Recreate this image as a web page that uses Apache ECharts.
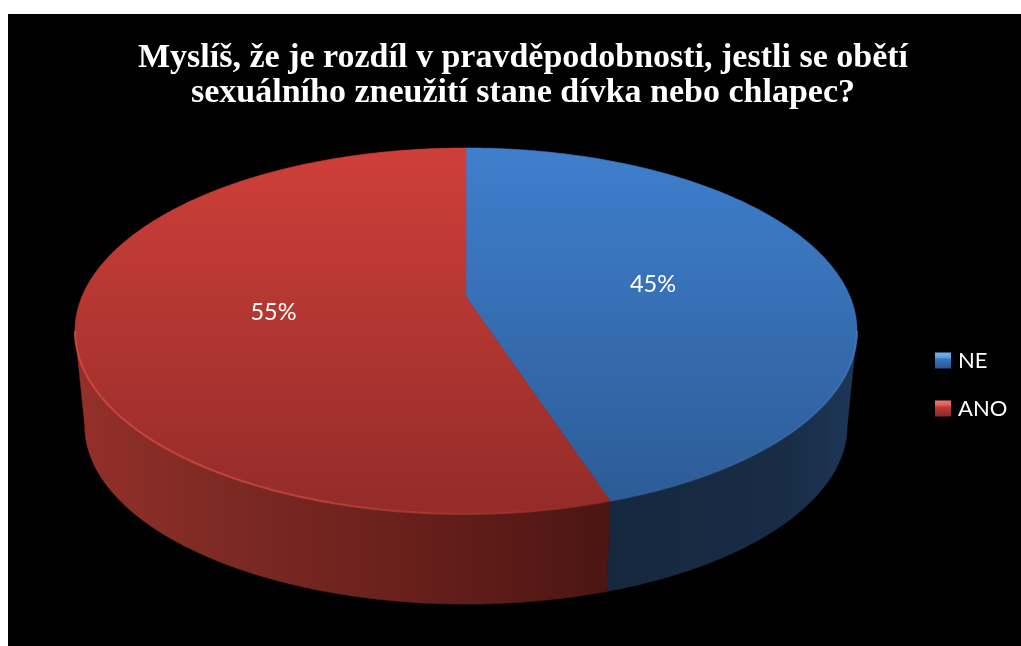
<!DOCTYPE html>
<html><head><meta charset="utf-8">
<style>html,body{margin:0;padding:0;background:#fff}#c{width:1021px;height:646px}</style>
<script src="https://cdn.jsdelivr.net/npm/echarts@6/dist/echarts.min.js"></script>
</head><body><div id="c"></div>
<script>
const categories = ['NE', 'ANO'];
const values = [45, 55];
const titleLines = ['Myslíš, že je rozdíl v pravděpodobnosti, jestli se obětí', 'sexuálního zneužití stane dívka nebo chlapec?'];

const total = values.reduce((a, b) => a + b, 0);
const starts = values.map((_, i) => values.slice(0, i).reduce((a, b) => a + b, 0));
const G = echarts.graphic.LinearGradient;
const grad = (x0, y0, x1, y1, stops) => new G(x0, y0, x1, y1, stops.map(c => ({offset: c[0], color: c[1]})), true);

// perspective projection of the pie disc
const cx = 466, cy = 297, k = 0.1858, A = 176.7, B = 384.2, depth = 95.5, shrink = 0.975;
function topPt(theta, r) {
  const u = r * Math.sin(theta), v = -r * Math.cos(theta), w = 1 - k * v;
  return [cx + B * u / w, cy + A * v / w];
}
function botPt(theta) {
  const p = topPt(theta, 1);
  return [cx + (p[0] - cx) * shrink, cy + depth + (p[1] - cy) * shrink];
}
const D = Math.PI / 180;
const sideAngle = Math.acos(-k) / D; // where the rim turns from back to front
function arc(a0, a1, f) {
  const pts = [], n = Math.max(2, Math.ceil((a1 - a0) / 0.5));
  for (let i = 0; i <= n; i++) pts.push(f((a0 + (a1 - a0) * i / n) * D));
  return pts;
}
const looks = [
  {
    face: grad(0, 148, 0, 505, [[0, '#3f7fcd'], [1, '#2c5b96']]),
    wall: grad(610, 0, 860, 0, [[0, '#16283f'], [0.7, '#182c46'], [1, '#1e3757']]),
    rim: grad(857, 330, 610, 500, [[0, 'rgba(80,140,215,0.45)'], [0.5, 'rgba(70,125,195,0.3)'], [1, 'rgba(60,115,185,0.1)']])
  },
  {
    face: grad(0, 148, 0, 505, [[0, '#cf3f39'], [1, '#952c29']]),
    wall: grad(75, 0, 615, 0, [[0, '#943029'], [0.25, '#7f2a24'], [0.6, '#6a201c'], [1, '#4a1512']]),
    rim: grad(75, 330, 612, 500, [[0, 'rgba(235,90,80,0.55)'], [0.5, 'rgba(220,80,70,0.6)'], [0.85, 'rgba(185,60,55,0.35)'], [1, 'rgba(150,45,42,0.1)']])
  }
];

function renderSlice(params, api) {
  const i = params.seriesIndex, val = api.value(0), look = looks[i];
  const a0 = starts[i] / total * 360, a1 = (starts[i] + val) / total * 360;
  const w0 = Math.max(a0, sideAngle), w1 = Math.min(a1, 360 - sideAngle);
  const topArc = arc(w0, w1, t => topPt(t, 1));
  const botArc = arc(w0, w1, botPt).reverse();
  const mid = (a0 + a1) / 2 * D, lp = topPt(mid, 0.5);
  return {type: 'group', children: [
    {type: 'polygon', z2: 1, shape: {points: topArc.concat(botArc)}, style: {fill: look.wall, stroke: look.wall, lineWidth: 0.5}},
    {type: 'polygon', z2: 5, shape: {points: [[cx, cy]].concat(arc(a0, a1, t => topPt(t, 1)))}, style: {fill: look.face, stroke: look.face, lineWidth: 0.6}},
    {type: 'polyline', z2: 6, shape: {points: topArc}, style: {fill: null, stroke: look.rim, lineWidth: 2}},
    {type: 'text', z2: 10, style: {text: Math.round(val / total * 100) + '%', x: lp[0], y: lp[1] + 1, fill: '#fff',
      font: '23.5px Lato', align: 'center', verticalAlign: 'middle'}}
  ]};
}

const chart = echarts.init(document.getElementById('c'), null, {renderer: 'canvas'});
chart.setOption({
  animation: false,
  backgroundColor: '#fff',
  graphic: [{type: 'rect', z: -1, shape: {x: 8, y: 14, width: 1013, height: 632}, style: {fill: '#000'}}],
  title: {
    text: titleLines.join('\n'), left: 518, top: 36, textAlign: 'center',
    textStyle: {color: '#fff', fontFamily: 'Liberation Serif', fontWeight: 'bold', fontSize: 34, lineHeight: 35}
  },
  legend: {
    orient: 'vertical', left: 930, top: 343, itemWidth: 16, itemHeight: 16, itemGap: 23, selectedMode: false,
    textStyle: {color: '#fff', fontFamily: 'Lato', fontSize: 22, lineHeight: 25, padding: [0, 0, 0, 2]},
    data: [
      {name: categories[0], icon: 'rect', itemStyle: {color: new G(0, 0, 0, 1, [{offset: 0, color: '#6cb4f5'}, {offset: 0.3, color: '#5a9fe0'}, {offset: 0.4, color: '#3a78c2'}, {offset: 1, color: '#2a5590'}])}},
      {name: categories[1], icon: 'rect', itemStyle: {color: new G(0, 0, 0, 1, [{offset: 0, color: '#ef7a74'}, {offset: 0.3, color: '#dc5a55'}, {offset: 0.4, color: '#c03a36'}, {offset: 1, color: '#8a2a28'}])}}
    ]
  },
  series: categories.map((name, i) => ({
    type: 'custom', name, coordinateSystem: 'none', data: [[values[i]]], renderItem: renderSlice, silent: true
  }))
});
</script></body></html>
